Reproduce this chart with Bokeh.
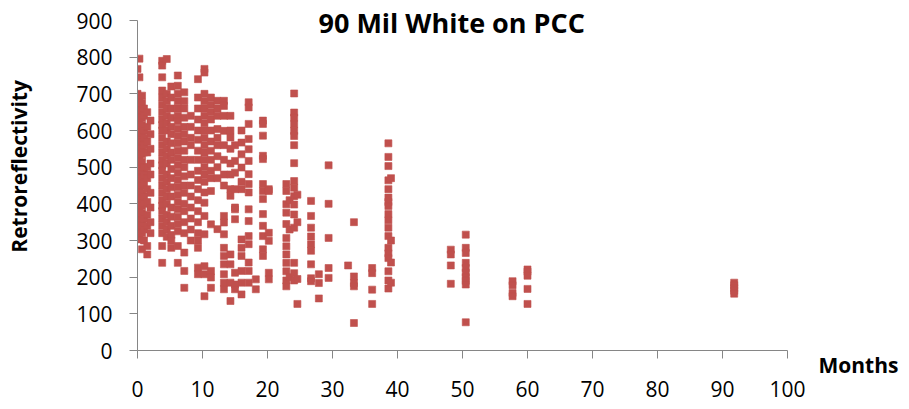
from bokeh.plotting import figure
from bokeh.models import Range1d, FixedTicker, Title
from bokeh.embed import file_html
from bokeh.resources import INLINE

TITLE = "90 Mil White on PCC"
X_LABEL = "Months"
Y_LABEL = "Retroreflectivity"
X_TICKS = [0, 10, 20, 30, 40, 50, 60, 70, 80, 90, 100]
Y_TICKS = [0, 100, 200, 300, 400, 500, 600, 700, 800, 900]

# ---- data: (months, retroreflectivity) grouped by reading columns ----
months_a = ([0.0] * 23 + [0.3] * 23 + [0.7] * 21 + [1.0] * 14 + [1.5] * 12 + [2.0] * 9)
retro_a = [768, 700, 680, 665, 640, 620, 600, 585, 560, 545, 530, 510, 495, 470, 455, 440, 420, 400, 380, 360, 345, 330, 310,
           796, 745, 690, 670, 650, 630, 610, 590, 575, 555, 540, 520, 500, 480, 460, 445, 425, 410, 390, 370, 350, 330, 303,
           695, 675, 655, 635, 615, 595, 570, 550, 535, 515, 490, 470, 450, 430, 415, 395, 375, 355, 340, 320, 276,
           660, 640, 600, 580, 560, 540, 500, 480, 455, 420, 400, 360, 330, 300,
           650, 610, 570, 540, 500, 470, 440, 405, 370, 340, 285, 262,
           627, 590, 550, 510, 480, 430, 390, 350, 320]

months_b = ([3.8] * 27 + [4.5] * 20 + [5.2] * 19 + [6.2] * 24 + [7.2] * 20 + [8.2] * 12)
retro_b = [790, 777, 745, 709, 690, 670, 650, 630, 615, 600, 580, 560, 540, 520, 505, 490, 470, 450, 430, 410, 395, 380, 360, 340, 320, 285, 239,
           795, 700, 680, 660, 640, 620, 600, 570, 550, 530, 510, 480, 460, 440, 420, 400, 370, 350, 330, 310,
           720, 690, 660, 635, 610, 590, 565, 540, 520, 495, 470, 445, 420, 390, 365, 340, 315, 300, 280,
           750, 722, 700, 680, 660, 640, 625, 605, 585, 565, 545, 525, 505, 485, 465, 445, 425, 405, 385, 365, 345, 325, 285, 239,
           704, 680, 660, 635, 610, 590, 570, 545, 520, 500, 475, 450, 430, 400, 380, 350, 320, 267, 217, 171,
           640, 610, 580, 560, 520, 480, 450, 420, 390, 360, 330, 300]

months_c = ([9.3] * 19 + [10.3] * 22 + [11.3] * 15 + [12.3] * 10 + [13.3] * 17 + [14.3] * 12)
retro_c = [740, 690, 660, 630, 600, 575, 545, 520, 490, 465, 440, 410, 380, 350, 320, 300, 280, 226, 208,
           758, 768, 700, 680, 660, 640, 620, 600, 580, 560, 540, 520, 500, 480, 460, 431, 403, 367, 317, 230, 208, 148,
           690, 670, 650, 630, 600, 570, 545, 520, 490, 470, 435, 344, 217, 199, 171,
           681, 660, 640, 604, 580, 560, 530, 500, 470, 331,
           681, 667, 640, 599, 560, 520, 480, 450, 367, 349, 317, 280, 258, 235, 208, 185, 167,
           640, 600, 581, 550, 510, 480, 440, 422, 262, 235, 185, 135]

months_d = ([15.0] * 10 + [16.0] * 12 + [17.1] * 16 + [18.2] * 2 + [19.3] * 13 + [20.2] * 6)
retro_d = [560, 517, 485, 440, 390, 385, 358, 212, 180, 167,
           600, 567, 535, 499, 460, 440, 303, 280, 258, 217, 185, 153,
           677, 663, 618, 577, 549, 517, 481, 454, 431, 385, 353, 312, 290, 240, 217, 185,
           194, 167,
           627, 618, 586, 531, 522, 454, 435, 413, 372, 340, 312, 276, 258,
           440, 435, 321, 299, 212, 194]

months_e = ([22.9] * 12 + [23.4] * 3 + [24.1] * 17 + [24.6] * 4 + [26.7] * 9 + [27.9] * 3 + [29.4] * 5)
retro_e = [454, 435, 399, 376, 345, 307, 284, 262, 239, 216, 191, 175,
           410, 330, 200,
           701, 649, 635, 617, 599, 585, 560, 511, 462, 444, 421, 398, 371, 335, 239, 211, 191,
           425, 350, 195, 127,
           408, 367, 335, 311, 290, 272, 235, 197, 189,
           208, 184, 142,
           505, 400, 307, 225, 198]

months_f = ([32.4] * 1 + [33.3] * 5 + [36.1] * 4 + [38.6] * 18 + [39.0] * 4)
retro_f = [232,
           350, 202, 184, 175, 75,
           225, 211, 166, 127,
           565, 528, 503, 464, 440, 417, 405, 394, 372, 355, 335, 312, 280, 265, 252, 216, 191, 169,
           470, 300, 240, 185]

months_g = ([48.2] * 4 + [50.5] * 10 + [57.7] * 4 + [60.0] * 5 + [91.8] * 5)
retro_g = [275, 262, 232, 182,
           316, 280, 266, 239, 225, 212, 200, 190, 180, 77,
           189, 178, 157, 148,
           221, 215, 204, 168, 127,
           185, 178, 170, 163, 155]

months = months_a + months_b + months_c + months_d + months_e + months_f + months_g
retro = retro_a + retro_b + retro_c + retro_d + retro_e + retro_f + retro_g

FONT = "Open Sans"
RED = "#C0504D"
AXIS = "#868686"

p = figure(width=909, height=409, output_backend="svg", toolbar_location=None,
           x_range=Range1d(0, 100), y_range=Range1d(0, 900),
           min_border_left=137, min_border_right=122, min_border_top=20, min_border_bottom=59)
p.background_fill_color = "white"
p.border_fill_color = "white"
p.outline_line_color = None
p.xgrid.visible = False
p.ygrid.visible = False

p.scatter(months, retro, marker="square", size=7, fill_color=RED, line_color=RED, line_alpha=0.6)

for ax in (p.xaxis[0], p.yaxis[0]):
    ax.axis_line_color = AXIS
    ax.axis_line_width = 1
    ax.major_tick_line_color = AXIS
    ax.major_tick_out = 8
    ax.major_tick_in = 0
    ax.minor_tick_line_color = None
    ax.major_label_text_font = FONT
    ax.major_label_text_font_size = "21px"
    ax.major_label_text_color = "black"

p.xaxis[0].ticker = FixedTicker(ticks=X_TICKS)
p.yaxis[0].ticker = FixedTicker(ticks=Y_TICKS)
p.xaxis[0].major_label_standoff = 22
p.yaxis[0].major_label_standoff = 17

# y axis title (leading no-break spaces lift it slightly above the frame centre, as in the original)
p.yaxis[0].axis_label = "\u00a0" * 7 + Y_LABEL
p.yaxis[0].axis_label_standoff = 40
p.yaxis[0].axis_label_text_font = FONT
p.yaxis[0].axis_label_text_font_style = "bold"
p.yaxis[0].axis_label_text_font_size = "21px"
p.yaxis[0].axis_label_text_color = "black"

# chart title, overlapping the top of the plot area
p.title.text = TITLE
p.title.align = "left"
p.title.offset = 181
p.title.vertical_align = "bottom"
p.title.standoff = -40
p.title.text_font = FONT
p.title.text_font_style = "bold"
p.title.text_font_size = "27px"
p.title.text_color = "black"

# x axis title, to the right of the axis end and above the tick labels
p.add_layout(Title(text=X_LABEL, align="left", offset=681, vertical_align="top", standoff=-98,
                   text_font=FONT, text_font_style="bold", text_font_size="21px", text_color="black"), "below")

open("out.html", "w").write(file_html(p, INLINE))
